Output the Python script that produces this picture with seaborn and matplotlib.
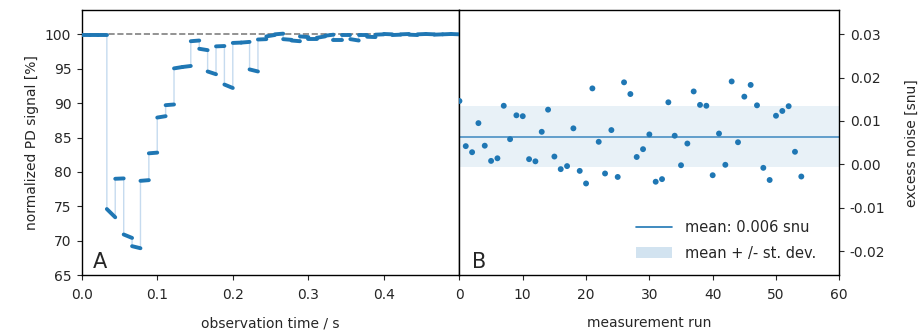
import numpy as np
import pandas as pd
import matplotlib
matplotlib.use("Agg")
import matplotlib.pyplot as plt
import seaborn as sns
from matplotlib.lines import Line2D
from matplotlib.patches import Patch

# ---------------------------------------------------------------
# panel A : normalized PD signal, one step per 1/90 s segment

seg_t = [0.0, 0.0111, 0.0222, 0.0333, 0.0444, 0.0556, 0.0667, 0.0778, 0.0889, 0.1,
         0.1111, 0.1222, 0.1333, 0.1444, 0.1556, 0.1667, 0.1778, 0.1889, 0.2, 0.2111,
         0.2222, 0.2333, 0.2444, 0.2556, 0.2667, 0.2778, 0.2889, 0.3, 0.3111, 0.3222,
         0.3333, 0.3444, 0.3556, 0.3667, 0.3778, 0.3889, 0.4, 0.4111, 0.4222, 0.4333,
         0.4444, 0.4556, 0.4667, 0.4778, 0.4889, 0.5]

lev_start = [99.85, 99.85, 99.85, 74.6, 79.0, 70.9, 69.2, 78.7, 82.7, 87.9,
             89.7, 95.05, 95.25, 99.0, 97.9, 94.6, 98.25, 92.7, 98.75, 98.8,
             94.9, 99.25, 99.7, 100.0, 99.3, 99.1, 99.7, 99.3, 99.5, 99.8,
             99.2, 99.95, 99.3, 99.95, 99.65, 99.95, 100.05, 99.9, 100.0, 99.95,
             100.0, 100.05, 99.95, 100.0, 100.05]

lev_end = [99.85, 99.85, 99.85, 73.4, 79.05, 70.4, 68.9, 78.8, 82.8, 88.1,
           89.8, 95.25, 95.4, 99.1, 97.7, 94.2, 98.3, 92.2, 98.8, 98.9,
           94.6, 99.3, 99.9, 100.1, 99.2, 99.0, 99.6, 99.3, 99.7, 99.95,
           99.2, 99.95, 99.1, 99.95, 99.6, 100.0, 100.0, 99.95, 100.05, 99.9,
           100.05, 100.0, 100.0, 100.05, 100.0]

# panel B : excess noise per measurement run

runs = list(range(55))
noise = [0.0146, 0.0042, 0.0028, 0.0095, 0.0043, 0.0008, 0.0014, 0.0135, 0.0058, 0.0113,
         0.0111, 0.0012, 0.0007, 0.0075, 0.0126, 0.0018, -0.0011, -0.0004, 0.0083, -0.0015,
         -0.0044, 0.0175, 0.0052, -0.0021, 0.0079, -0.0029, 0.0189, 0.0162, 0.0017, 0.0035,
         0.0069, -0.0040, -0.0034, 0.0143, 0.0066, -0.0002, 0.0048, 0.0168, 0.0137, 0.0135,
         -0.0025, 0.0071, -0.0001, 0.0191, 0.0051, 0.0156, 0.0183, 0.0136, -0.0008, -0.0036,
         0.0112, 0.0123, 0.0134, 0.0029, -0.0028]

# ---------------------------------------------------------------

rows = []
for k in range(len(lev_start)):
    rows.append({'t': seg_t[k], 'v': lev_start[k], 'seg': k})
    rows.append({'t': seg_t[k + 1], 'v': lev_end[k], 'seg': k})
df_a = pd.DataFrame(rows)

df_b = pd.DataFrame({'run': runs, 'noise': noise})
mean_val = df_b['noise'].mean()
std_val = df_b['noise'].std()

sns.set_style('ticks')
plt.rcParams['font.family'] = ['DejaVu Sans']
plt.rcParams['font.size'] = 10
plt.rcParams['axes.linewidth'] = 1.0
plt.rcParams['axes.edgecolor'] = 'black'
plt.rcParams['xtick.major.size'] = 3.5
plt.rcParams['ytick.major.size'] = 3.5
plt.rcParams['xtick.major.pad'] = 6
plt.rcParams['ytick.major.pad'] = 4

blue = '#1f77b4'

fig = plt.figure(figsize=(9.22, 3.31), dpi=100)
ax1 = fig.add_axes([0.0886, 0.169, 0.4097, 0.8])
ax2 = fig.add_axes([0.4983, 0.169, 0.412, 0.8])

# panel A
ax1.axhline(100, color='gray', ls='--', lw=1.2, zorder=1)
sns.lineplot(data=df_a, x='t', y='v', sort=False, estimator=None,
             color='#c6dbef', lw=1.0, ax=ax1, zorder=2)
sns.lineplot(data=df_a, x='t', y='v', units='seg', estimator=None, sort=False,
             color=blue, lw=2.8, solid_capstyle='round', ax=ax1, zorder=3)
ax1.set_xlim(0, 0.5)
ax1.set_ylim(65, 103.5)
ax1.set_xticks([0.0, 0.1, 0.2, 0.3, 0.4])
ax1.set_yticks([65, 70, 75, 80, 85, 90, 95, 100])
ax1.set_xlabel('observation time / s', labelpad=10)
ax1.set_ylabel('normalized PD signal [%]')
ax1.text(0.03, 0.025, 'A', transform=ax1.transAxes, fontsize=15)

# panel B
ax2.axhspan(mean_val - std_val, mean_val + std_val, color=blue, alpha=0.1, lw=0, zorder=1)
ax2.axhline(mean_val, color='#4a90c4', lw=1.2, zorder=2)
sns.scatterplot(data=df_b, x='run', y='noise', color=blue, s=18,
                edgecolor='none', ax=ax2, zorder=3)
ax2.set_xlim(0, 60)
ax2.set_ylim(-0.0255, 0.0355)
ax2.set_xticks([0, 10, 20, 30, 40, 50, 60])
ax2.set_yticks([-0.02, -0.01, 0.0, 0.01, 0.02, 0.03])
ax2.set_yticklabels(['-0.02', '-0.01', '0.00', '0.01', '0.02', '0.03'])
ax2.yaxis.tick_right()
ax2.yaxis.set_label_position('right')
ax2.set_xlabel('measurement run', labelpad=10)
ax2.set_ylabel('excess noise [snu]', labelpad=14)
ax2.text(0.032, 0.025, 'B', transform=ax2.transAxes, fontsize=15)

handles = [Line2D([0], [0], color=blue, lw=1.2),
           Patch(facecolor=blue, alpha=0.2, edgecolor='none')]
ax2.legend(handles, ['mean: %.3f snu' % mean_val, 'mean + /- st. dev.'],
           loc='lower right', frameon=False, fontsize=10.5, labelspacing=0.75,
           handlelength=2.5, handletextpad=0.9, bbox_to_anchor=(0.975, 0.005))

fig.savefig('out.png', dpi=100)
